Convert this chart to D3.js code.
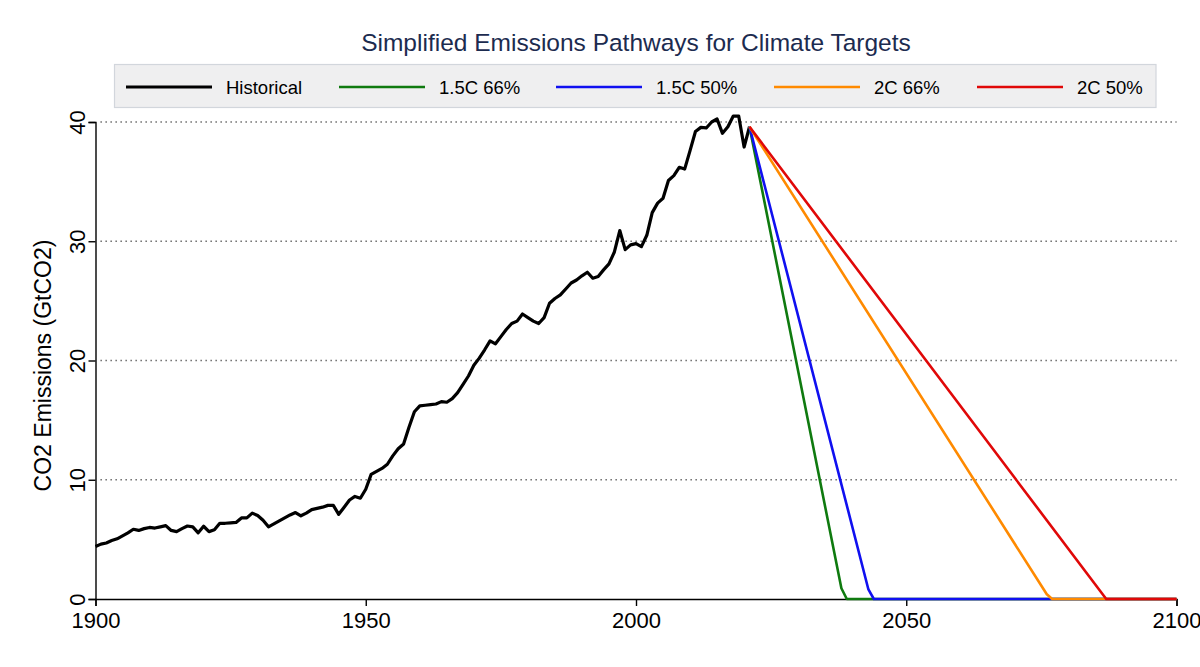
<!DOCTYPE html>
<html>
<head>
<meta charset="utf-8">
<script src="https://cdn.jsdelivr.net/npm/d3@7"></script>
<style>
  body { margin: 0; background: #fff; }
  text { font-family: "Liberation Sans", Arial, Helvetica, sans-serif; }
</style>
</head>
<body>
<div id="chart"></div>
<script>
// Historical CO2 emissions, GtCO2, 1900-2021
const histStart = 1900;
const histValues = [
  4.4, 4.6, 4.7, 4.9, 5.05, 5.3, 5.55, 5.85, 5.75, 5.9,
  6.0, 5.95, 6.05, 6.15, 5.75, 5.65, 5.9, 6.12, 6.05, 5.55,
  6.1, 5.65, 5.8, 6.35, 6.35, 6.38, 6.42, 6.8, 6.8, 7.2,
  7.0, 6.6, 6.05, 6.3, 6.55, 6.8, 7.05, 7.25, 6.98, 7.2,
  7.5, 7.6, 7.7, 7.85, 7.85, 7.1, 7.7, 8.3, 8.6, 8.45,
  9.2, 10.45, 10.7, 10.95, 11.3, 12.0, 12.6, 13.0, 14.4, 15.7,
  16.2, 16.25, 16.3, 16.35, 16.55, 16.5, 16.8, 17.3, 18.0, 18.7,
  19.6, 20.2, 20.9, 21.65, 21.4, 22.0, 22.6, 23.1, 23.3, 23.9,
  23.6, 23.3, 23.1, 23.6, 24.8, 25.2, 25.5, 26.0, 26.5, 26.75,
  27.1, 27.4, 26.9, 27.05, 27.6, 28.1, 29.1, 30.9, 29.3, 29.7,
  29.8, 29.55, 30.5, 32.4, 33.2, 33.6, 35.1, 35.5, 36.2, 36.05,
  37.6, 39.2, 39.55, 39.5, 40.0, 40.25, 39.05, 39.6, 40.5, 40.5,
  37.9, 39.6
];

// Pathway break points [year, GtCO2]
const path15_66 = [[2021, 39.6], [2038, 0.9], [2039, 0], [2100, 0]];
const path15_50 = [[2021, 39.6], [2043, 0.8], [2044, 0], [2100, 0]];
const path2_66  = [[2021, 39.6], [2076, 0.4], [2077, 0], [2100, 0]];
const path2_50  = [[2021, 39.6], [2087, 0], [2100, 0]];

const seriesNames  = ['Historical', '1.5C 66%', '1.5C 50%', '2C 66%', '2C 50%'];
const seriesColors = ['#000000', '#0f7a0f', '#1010f0', '#ff8a00', '#e00808'];

const xTicks = [1900, 1950, 2000, 2050, 2100];
const yTicks = [0, 10, 20, 30, 40];

const width = 1200, height = 667;
const plot = { left: 95.5, right: 1176.5, top: 122, bottom: 599 };

const svg = d3.select('#chart').append('svg')
  .attr('width', width)
  .attr('height', height);

svg.append('rect').attr('width', width).attr('height', height).attr('fill', '#fff');

const x = d3.scaleLinear().domain([1900, 2100]).range([plot.left, plot.right]);
const y = d3.scaleLinear().domain([0, 40]).range([plot.bottom, plot.top]);

// Title
svg.append('text')
  .attr('x', (plot.left + plot.right) / 2)
  .attr('y', 51)
  .attr('text-anchor', 'middle')
  .attr('font-size', 24.5)
  .attr('fill', '#1c2b4f')
  .text('Simplified Emissions Pathways for Climate Targets');

// Legend
const legend = svg.append('g');
legend.append('rect')
  .attr('x', 114.5).attr('y', 64.5)
  .attr('width', 1041.5).attr('height', 43)
  .attr('fill', '#efeff0')
  .attr('stroke', '#d2d6dc')
  .attr('stroke-width', 1.2);

const legendX = [126, 339, 556, 774, 977];
seriesNames.forEach((name, i) => {
  const g = legend.append('g').attr('transform', `translate(${legendX[i]},87)`);
  g.append('line')
    .attr('x1', 0).attr('x2', 86)
    .attr('stroke', seriesColors[i])
    .attr('stroke-width', i === 0 ? 3 : 2.6);
  g.append('text')
    .attr('x', 100)
    .attr('y', 6.5)
    .attr('font-size', 18.5)
    .attr('fill', '#000')
    .text(name);
});

// Dotted gridlines
svg.append('g')
  .selectAll('line')
  .data(yTicks.filter(d => d > 0))
  .enter()
  .append('line')
  .attr('x1', plot.left + 5)
  .attr('x2', plot.right)
  .attr('y1', d => y(d))
  .attr('y2', d => y(d))
  .attr('stroke', '#555')
  .attr('stroke-width', 1.3)
  .attr('stroke-dasharray', '1.3,3.7');

// Axes
const yAxis = svg.append('g')
  .attr('transform', `translate(${plot.left},0)`)
  .call(d3.axisLeft(y).tickValues(yTicks).tickSize(7).tickPadding(10));

yAxis.selectAll('text')
  .attr('font-size', 22)
  .attr('fill', '#000')
  .attr('text-anchor', 'middle')
  .attr('transform', 'rotate(-90, -18, 0)')
  .attr('x', -18)
  .attr('dy', '0.35em');

const xAxis = svg.append('g')
  .attr('transform', `translate(0,${plot.bottom})`)
  .call(d3.axisBottom(x).tickValues(xTicks).tickFormat(d3.format('d')).tickSize(7).tickPadding(6));

xAxis.selectAll('text').attr('font-size', 22).attr('fill', '#000');
svg.selectAll('.domain').attr('stroke', '#000').attr('stroke-width', 1.4);
svg.selectAll('.tick line').attr('stroke', '#000').attr('stroke-width', 1.4);

// Y axis title
svg.append('text')
  .attr('transform', `translate(51,${(plot.top + plot.bottom) / 2 + 5}) rotate(-90)`)
  .attr('text-anchor', 'middle')
  .attr('font-size', 23)
  .attr('fill', '#000')
  .text('CO2 Emissions (GtCO2)');

// Lines
const line = d3.line()
  .x(d => x(d[0]))
  .y(d => y(d[1]));

const histData = histValues.map((v, i) => [histStart + i, v]);
const allSeries = [histData, path15_66, path15_50, path2_66, path2_50];

allSeries.forEach((data, i) => {
  svg.append('path')
    .datum(data)
    .attr('fill', 'none')
    .attr('stroke', seriesColors[i])
    .attr('stroke-width', i === 0 ? 3.2 : 2.6)
    .attr('stroke-linejoin', 'round')
    .attr('d', line);
});
</script>
</body>
</html>
